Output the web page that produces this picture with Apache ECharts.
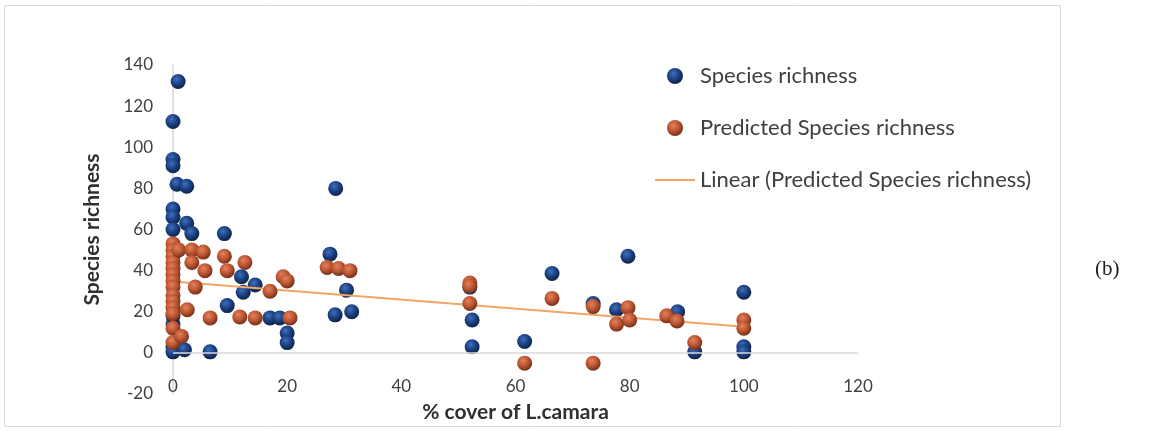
<!DOCTYPE html>
<html>
<head>
<meta charset="utf-8">
<title>Species richness vs % cover of L.camara</title>
<script src="https://cdn.jsdelivr.net/npm/echarts@6/dist/echarts.min.js"></script>
<style>
  html, body { margin: 0; padding: 0; background: #ffffff; }
  #chart { width: 1153px; height: 431px; }
</style>
</head>
<body>
<div id="chart"></div>
<script>
// Observed species richness per plot (x = % cover of L.camara)
const coverObs = [0.9, 0, 0, 0, 0.7, 2.4, 0, 0, 2.4, 0, 3.3, 9, 0, 0, 0, 0, 2, 6.5,
  12, 14.4, 12.3, 9.5, 17, 18.7, 20, 20, 27.5, 28.5, 30.4, 28.4, 31.3,
  52, 52.4, 52.4, 61.6, 66.4, 73.6, 79.7, 77.7, 88.4, 91.4, 100, 100, 100];
const richnessObs = [132, 112.5, 94, 91, 82, 81, 70, 66, 63, 60, 58, 58, 14, 18, 3, 0.5, 1.5, 0.5,
  37, 33, 29.5, 23, 17, 17, 9.7, 5, 48, 80, 30.5, 18.5, 20,
  32, 16, 3, 5.5, 38.6, 24, 47, 21, 20, 0.5, 29.5, 3, 0.5];

// Model-predicted species richness
const coverPred = [0, 0, 0, 0, 0, 0, 0, 0, 0, 0, 0, 0, 0, 0,
  1, 3.3, 5.3, 3.3, 5.6, 9, 12.6, 9.5, 3.9, 2.5, 6.5, 11.7, 14.4, 20.5, 17, 19.3, 20, 1.5,
  27, 29, 31, 52, 52, 52, 61.6, 66.4, 73.6, 73.6, 79.7, 80, 77.7, 86.5, 88.3, 91.4, 100, 100];
const richnessPred = [53, 50, 47, 44, 41, 38, 35, 32, 28, 25, 22, 19, 12, 5,
  50, 50, 49, 44, 40, 47, 44, 40, 32, 21, 17, 17.5, 17, 17, 30, 37, 35, 8,
  41.5, 41, 40, 34, 32.5, 24, -5, 26.5, 22.5, -5, 22, 16, 14, 18, 15.5, 5, 16, 12];

// Linear trendline of the predicted values (end points)
const trendX = [0, 100];
const trendY = [34.7, 12.7];

// Axis tick values
const xTicks = [0, 20, 40, 60, 80, 100, 120];
const yTicks = [-20, 0, 20, 40, 60, 80, 100, 120, 140];

const FONT = 'Lato, "Open Sans", sans-serif';
const zip = (xs, ys) => xs.map((x, i) => [x, ys[i]]);

const blueBall = {
  type: 'radial', x: 0.4, y: 0.35, r: 0.65,
  colorStops: [
    { offset: 0, color: '#3f6fba' },
    { offset: 0.55, color: '#1b4082' },
    { offset: 1, color: '#0f2347' }
  ]
};
const orangeBall = {
  type: 'radial', x: 0.4, y: 0.35, r: 0.65,
  colorStops: [
    { offset: 0, color: '#e3825a' },
    { offset: 0.55, color: '#bb5532' },
    { offset: 1, color: '#76301a' }
  ]
};

const chart = echarts.init(document.getElementById('chart'), null, { renderer: 'canvas' });

chart.setOption({
  backgroundColor: '#ffffff',
  animation: false,
  textStyle: { fontFamily: FONT },
  grid: { left: 173, right: 295, top: 65, bottom: 37, containLabel: false },
  legend: {
    orient: 'vertical',
    left: 650,
    top: 60,
    itemWidth: 40,
    itemHeight: 16,
    itemGap: 30,
    symbolKeepAspect: true,
    data: [
      'Species richness',
      'Predicted Species richness',
      // plain line swatch for the trendline entry
      { name: 'Linear (Predicted Species richness)', icon: 'path://M0,0H40V2H0Z' }
    ],
    textStyle: { fontFamily: FONT, fontSize: 22, color: '#404040' }
  },
  xAxis: {
    type: 'value',
    position: 'bottom',
    min: xTicks[0],
    max: xTicks[xTicks.length - 1],
    interval: 20,
    offset: -20,
    axisLine: { show: false, onZero: false },
    axisTick: { show: false },
    splitLine: { show: false },
    axisLabel: { fontFamily: FONT, fontSize: 17, color: '#404040', margin: 4 },
    name: '% cover of L.camara',
    nameLocation: 'middle',
    nameGap: 28,
    nameTextStyle: { fontFamily: FONT, fontSize: 21, fontWeight: 'bold', color: '#303030' }
  },
  yAxis: {
    type: 'value',
    min: yTicks[0],
    max: yTicks[yTicks.length - 1],
    interval: 20,
    axisLine: { show: true, lineStyle: { color: '#d9d9d9', width: 1.5 } },
    axisTick: { show: false },
    splitLine: { show: false },
    axisLabel: { fontFamily: FONT, fontSize: 17, color: '#404040', margin: 20 },
    name: 'Species richness',
    nameLocation: 'middle',
    nameGap: 70,
    nameTextStyle: { fontFamily: FONT, fontSize: 21, fontWeight: 'bold', color: '#303030' }
  },
  series: [
    {
      name: 'Species richness',
      type: 'scatter',
      symbol: 'circle',
      symbolSize: 15,
      data: zip(coverObs, richnessObs),
      itemStyle: { color: blueBall, opacity: 1 },
      markLine: {
        silent: true,
        symbol: 'none',
        label: { show: false },
        lineStyle: { color: '#d9d9d9', width: 1.5, type: 'solid' },
        data: [{ yAxis: 0 }]
      },
      z: 3
    },
    {
      name: 'Linear (Predicted Species richness)',
      type: 'line',
      symbol: 'none',
      showSymbol: false,
      data: zip(trendX, trendY),
      lineStyle: { color: '#f2a565', width: 2 },
      itemStyle: { color: '#f2a565' },
      z: 4
    },
    {
      name: 'Predicted Species richness',
      type: 'scatter',
      symbol: 'circle',
      symbolSize: 15,
      data: zip(coverPred, richnessPred),
      itemStyle: { color: orangeBall, opacity: 1 },
      z: 5
    }
  ],
  graphic: [
    {
      type: 'rect',
      shape: { x: 4.5, y: 5.5, width: 1056, height: 421 },
      style: { fill: 'none', stroke: '#d9d9d9', lineWidth: 1 },
      silent: true
    },
    {
      type: 'text',
      left: 1095,
      top: 259,
      style: { text: '(b)', fontFamily: '"Liberation Serif", "DejaVu Serif", serif', fontSize: 21, fill: '#222222' }
    }
  ]
});
</script>
</body>
</html>
